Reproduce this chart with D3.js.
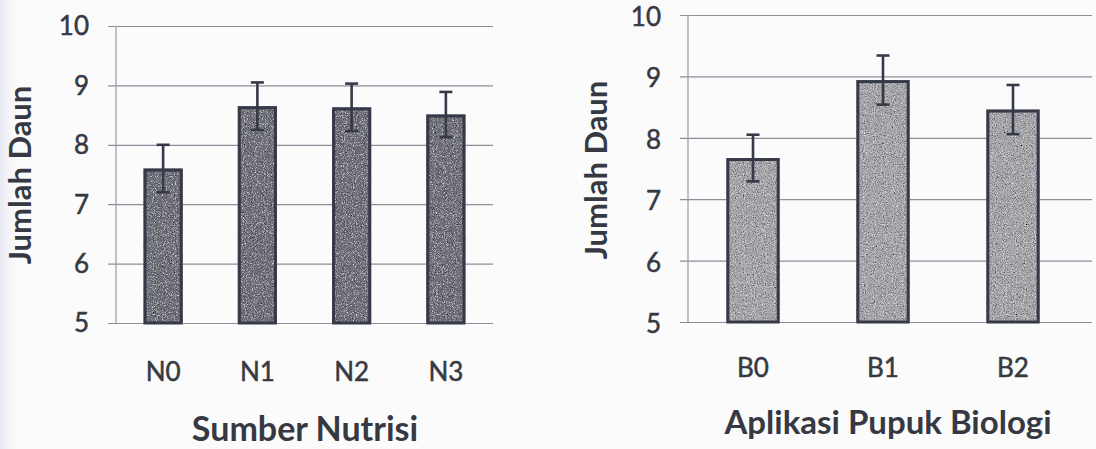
<!DOCTYPE html>
<html>
<head>
<meta charset="utf-8">
<script src="https://cdn.jsdelivr.net/npm/d3@7"></script>
<style>
  html, body { margin: 0; padding: 0; background: #fbfbfc; }
  svg { display: block; }
  text { font-family: Lato, "Open Sans", sans-serif; fill: #363942; }
</style>
</head>
<body>
<svg id="chart" width="1096" height="449"></svg>
<script>
// Mean leaf count per treatment, with error bar half-widths
const nutrientCats = ["N0", "N1", "N2", "N3"];
const nutrientMeans = [7.6, 8.65, 8.63, 8.51];
const nutrientErr = [0.4, 0.4, 0.4, 0.38];

const bioCats = ["B0", "B1", "B2"];
const bioMeans = [7.67, 8.94, 8.46];
const bioErr = [0.38, 0.4, 0.4];

const yTicks = [5, 6, 7, 8, 9, 10];
const yLabel = "Jumlah Daun";
const nutrientTitle = "Sumber Nutrisi";
const bioTitle = "Aplikasi Pupuk Biologi";

const svg = d3.select("#chart");
const defs = svg.append("defs");

// faint tint along the left page edge
const edge = defs.append("linearGradient").attr("id", "edgeTint");
edge.append("stop").attr("offset", 0).attr("stop-color", "#e6e9f2");
edge.append("stop").attr("offset", 1).attr("stop-color", "#fbfbfc").attr("stop-opacity", 0);
svg.append("rect").attr("x", 0).attr("y", 0).attr("width", 22).attr("height", 449)
  .attr("fill", "url(#edgeTint)");

// grain texture for bar fills
const f = defs.append("filter").attr("id", "grain")
  .attr("x", 0).attr("y", 0).attr("width", 1).attr("height", 1);
f.append("feTurbulence").attr("type", "fractalNoise").attr("baseFrequency", 0.9)
  .attr("numOctaves", 2).attr("seed", 7).attr("result", "noise");
f.append("feColorMatrix").attr("in", "noise").attr("type", "matrix")
  .attr("values", "0 0 0 0 0  0 0 0 0 0  0 0 0 0 0  2.2 0 0 0 -0.95").attr("result", "dark");
f.append("feColorMatrix").attr("in", "noise").attr("type", "matrix")
  .attr("values", "0 0 0 0 1  0 0 0 0 1  0 0 0 0 1  0 -2.2 0 0 1.0").attr("result", "light");
f.append("feComposite").attr("in", "dark").attr("in2", "SourceGraphic").attr("operator", "in").attr("result", "darkIn");
f.append("feComposite").attr("in", "light").attr("in2", "SourceGraphic").attr("operator", "in").attr("result", "lightIn");
const merge = f.append("feMerge");
merge.append("feMergeNode").attr("in", "SourceGraphic");
merge.append("feMergeNode").attr("in", "darkIn");
merge.append("feMergeNode").attr("in", "lightIn");

function drawPanel(opts) {
  const { cats, means, errs, left, right, gridRight, top, bottom, fill, tickDy,
          tickLabelX, xLabelY, yTitleX, yTitleY, xTitleX, xTitleY, xTitle, xTitleSize, pad } = opts;
  const g = svg.append("g");
  const x = d3.scaleBand().domain(cats).range([left, right]).paddingInner(pad).paddingOuter(pad / 2);
  const y = d3.scaleLinear().domain([5, 10]).range([bottom, top]);

  // horizontal gridlines with small outer ticks
  const yAxis = d3.axisLeft(y).tickValues(yTicks).tickSize(-(gridRight - left)).tickFormat("");
  const ga = g.append("g").attr("transform", `translate(${left},0)`).call(yAxis);
  ga.select(".domain").remove();
  ga.selectAll(".tick line").attr("stroke", "#8c8e9a").attr("stroke-width", 1.2)
    .attr("x1", -8);

  // vertical axis line
  g.append("line").attr("x1", left).attr("x2", left).attr("y1", y(10)).attr("y2", y(5))
    .attr("stroke", "#9a9ca6").attr("stroke-width", 1.2);

  // tick labels
  g.selectAll(".ylab").data(yTicks).join("text")
    .attr("x", tickLabelX).attr("y", d => y(d)).attr("dy", tickDy)
    .attr("text-anchor", "end").attr("font-size", 26)
    .attr("stroke", "#363942").attr("stroke-width", 0.5).text(d => d);

  g.selectAll(".xlab").data(cats).join("text")
    .attr("x", d => x(d) + x.bandwidth() / 2).attr("y", xLabelY).attr("dy", "0.36em")
    .attr("text-anchor", "middle").attr("font-size", 26)
    .attr("stroke", "#363942").attr("stroke-width", 0.5).text(d => d);

  // bars
  g.selectAll(".bar").data(cats).join("rect")
    .attr("x", d => x(d)).attr("width", x.bandwidth())
    .attr("y", (d, i) => y(means[i])).attr("height", (d, i) => y(5) - y(means[i]))
    .attr("fill", fill).attr("filter", "url(#grain)");
  g.selectAll(".barEdge").data(cats).join("rect")
    .attr("x", d => x(d) + 1.5).attr("width", x.bandwidth() - 3)
    .attr("y", (d, i) => y(means[i]) + 1.5).attr("height", (d, i) => y(5) - y(means[i]) - 1.5)
    .attr("fill", "none").attr("stroke", "#363a48").attr("stroke-width", 3);

  // error bars
  const cap = 6.5;
  cats.forEach((c, i) => {
    const cx = x(c) + x.bandwidth() / 2;
    const eg = g.append("g").attr("stroke", "#363a48").attr("stroke-width", 2.6);
    eg.append("line").attr("x1", cx).attr("x2", cx)
      .attr("y1", y(means[i] + errs[i])).attr("y2", y(means[i] - errs[i]));
    eg.append("line").attr("x1", cx - cap).attr("x2", cx + cap)
      .attr("y1", y(means[i] + errs[i])).attr("y2", y(means[i] + errs[i]));
    eg.append("line").attr("x1", cx - cap).attr("x2", cx + cap)
      .attr("y1", y(means[i] - errs[i])).attr("y2", y(means[i] - errs[i]));
  });

  // titles
  g.append("text").attr("transform", `translate(${yTitleX},${yTitleY}) rotate(-90)`)
    .attr("text-anchor", "middle").attr("dy", "0.36em")
    .attr("font-size", 31).attr("font-weight", 700).text(yLabel);
  g.append("text").attr("x", xTitleX).attr("y", xTitleY)
    .attr("text-anchor", "middle").attr("font-size", xTitleSize).attr("font-weight", 700).text(xTitle);
}

drawPanel({
  cats: nutrientCats, means: nutrientMeans, errs: nutrientErr,
  left: 116, right: 493, gridRight: 493, top: 26, bottom: 323,
  fill: "#74757f", tickDy: "0.36em", tickLabelX: 89, xLabelY: 372,
  yTitleX: 20, yTitleY: 175, xTitleX: 305, xTitleY: 441, xTitle: nutrientTitle, xTitleSize: 34, pad: 0.585
});

drawPanel({
  cats: bioCats, means: bioMeans, errs: bioErr,
  left: 688, right: 1078, gridRight: 1092, top: 15, bottom: 322,
  fill: "#adadb3", tickDy: "0.42em", tickLabelX: 661, xLabelY: 368,
  yTitleX: 596, yTitleY: 170, xTitleX: 888, xTitleY: 434, xTitle: bioTitle, xTitleSize: 33, pad: 0.59
});
</script>
</body>
</html>
